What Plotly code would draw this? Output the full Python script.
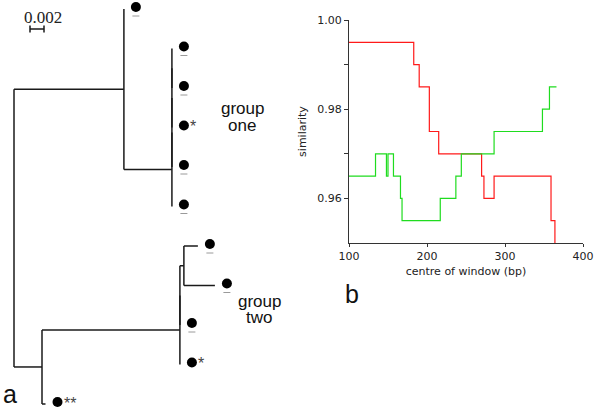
import plotly.graph_objects as go

# ---------------- Panel a: tree data ----------------
node_names = ["root", "A", "L0", "G1a", "G1b", "G1c", "G1d", "L1", "L2", "L3", "L4", "L5",
              "B", "G2a", "G2b", "S", "L6", "L7", "L8", "L9", "L10"]
node_parents = [None, "root", "A", "A", "G1a", "G1b", "G1c", "G1d", "G1d", "G1c", "G1b", "G1a",
                "root", "B", "G2a", "G2b", "S", "S", "G2b", "G2a", "B"]
branch_lengths = [0, 0.0157, 0, 0.00686, 0, 0, 0, 0, 0, 0, 0, 0,
                  0.004, 0.0197, 0, 0.00057, 0.002, 0.00443, 0, 0, 0.0005]
leaf_names = ["L0", "L1", "L2", "L3", "L4", "L5", "L6", "L7", "L8", "L9", "L10"]
leaf_marks = ["bar", "bar", "bar", "*", "bar", "bar", "bar", "bar", "bar", "*", "**"]
scale_bar_length = 0.002
scale_bar_label = "0.002"
group_one_label = ["group", "one"]
group_two_label = ["group", "two"]

# ---------------- Panel b: similarity data ----------------
red_x = [100, 183, 190, 203, 215, 270, 273, 286, 359, 362, 364]
red_y = [0.995, 0.990, 0.985, 0.975, 0.970, 0.965, 0.960, 0.965, 0.955, 0.955, 0.940]
green_x = [100, 134, 148, 150, 157, 166, 168, 217, 237, 244, 286, 348, 357, 366]
green_y = [0.965, 0.970, 0.965, 0.970, 0.965, 0.960, 0.955, 0.960, 0.965, 0.970, 0.975,
           0.980, 0.985, 0.985]
x_ticks = [100, 200, 300, 400]
y_ticks = [0.96, 0.97, 0.98, 0.99, 1.00]
y_tick_text = ["0.96", "", "0.98", "", "1.00"]

# ---------------- layout constants (pixels) ----------------
W, H = 600, 413
X0_PX, PX_PER_UNIT = 14, 7000.0
Y0_PX, PX_PER_LEAF = 9, 39.5


def dx(px):
    return px / PX_PER_UNIT


def dy(px):
    return px / PX_PER_LEAF


# ---------------- tree layout ----------------
children = {n: [] for n in node_names}
for n, p in zip(node_names, node_parents):
    if p is not None:
        children[p].append(n)

depth = {}
for n, p, bl in zip(node_names, node_parents, branch_lengths):
    depth[n] = (depth[p] if p is not None else 0.0) + bl

ypos = {}
for i, n in enumerate(leaf_names):
    ypos[n] = float(i)


def place(n):
    if not children[n]:
        return ypos[n]
    ys = [place(c) for c in children[n]]
    ypos[n] = (ys[0] + ys[-1]) / 2.0
    return ypos[n]


place("root")

line_x, line_y = [], []
for n, p in zip(node_names, node_parents):
    if p is not None:
        line_x += [depth[p], depth[n], None]
        line_y += [ypos[n], ypos[n], None]
    if children[n]:
        ch = children[n]
        line_x += [depth[n], depth[n], None]
        line_y += [ypos[ch[0]], ypos[ch[-1]], None]

fig = go.Figure()
fig.add_trace(go.Scatter(x=line_x, y=line_y, mode="lines",
                         line=dict(color="#1a1a1a", width=1.5),
                         hoverinfo="skip", showlegend=False, xaxis="x", yaxis="y"))

dot_x = [depth[n] + dx(12) for n in leaf_names]
dot_y = [ypos[n] - dy(2) for n in leaf_names]
fig.add_trace(go.Scatter(x=dot_x, y=dot_y, mode="markers",
                         marker=dict(color="black", size=10),
                         cliponaxis=False,
                         showlegend=False, xaxis="x", yaxis="y"))

bar_x = [x for x, m in zip(dot_x, leaf_marks) if m == "bar"]
bar_y = [y + dy(9) for y, m in zip(dot_y, leaf_marks) if m == "bar"]
fig.add_trace(go.Scatter(x=bar_x, y=bar_y, mode="markers",
                         marker=dict(symbol="line-ew", size=5,
                                     line=dict(color="#9a9a9a", width=1)),
                         showlegend=False, xaxis="x", yaxis="y"))

annotations = []
for x, y, m in zip(dot_x, dot_y, leaf_marks):
    if m != "bar":
        annotations.append(dict(x=x + dx(4), y=y + dy(1), xref="x", yref="y", text=m,
                                showarrow=False, xanchor="left", yanchor="middle",
                                font=dict(family="Liberation Sans", size=16, color="#444")))

# scale bar
sb_x0 = dx(30 - X0_PX)
fig.add_trace(go.Scatter(x=[sb_x0, sb_x0 + scale_bar_length], y=[dy(29 - Y0_PX)] * 2,
                         mode="lines+markers",
                         line=dict(color="#1a1a1a", width=1.5),
                         marker=dict(symbol="line-ns", size=5,
                                     line=dict(color="#1a1a1a", width=1.5)),
                         showlegend=False, xaxis="x", yaxis="y"))
annotations.append(dict(x=dx(43 - X0_PX), y=dy(17 - Y0_PX), xref="x", yref="y",
                        text=scale_bar_label, showarrow=False,
                        font=dict(family="Liberation Serif", size=17, color="#222")))

for (cx, cy1, cy2), lab in [((242, 108, 125), group_one_label), ((259, 301, 317), group_two_label)]:
    for cy, t in zip((cy1, cy2), lab):
        annotations.append(dict(x=dx(cx - X0_PX), y=dy(cy - Y0_PX), xref="x", yref="y",
                                text=t, showarrow=False,
                                font=dict(family="Liberation Sans", size=17, color="#111")))

annotations.append(dict(x=10 / W, y=1 - 394 / H, xref="paper", yref="paper", text="a",
                        xanchor="center", yanchor="middle",
                        showarrow=False, font=dict(family="Liberation Sans", size=25, color="#111")))
annotations.append(dict(x=352 / W, y=1 - 294 / H, xref="paper", yref="paper", text="b",
                        xanchor="center", yanchor="middle",
                        showarrow=False, font=dict(family="Liberation Sans", size=25, color="#111")))

# ---------------- panel b traces ----------------
fig.add_trace(go.Scatter(x=red_x, y=red_y, mode="lines", line_shape="hv",
                         line=dict(color="#ff1a1a", width=1.2),
                         showlegend=False, xaxis="x2", yaxis="y2"))
fig.add_trace(go.Scatter(x=green_x, y=green_y, mode="lines", line_shape="hv",
                         line=dict(color="#1fdc1f", width=1.2),
                         showlegend=False, xaxis="x2", yaxis="y2"))

tick_font = dict(family="DejaVu Sans", size=11, color="#222")
fig.update_layout(
    template="none",
    width=W, height=H, margin=dict(l=0, r=0, t=0, b=0, pad=0),
    paper_bgcolor="white", plot_bgcolor="white",
    showlegend=False,
    xaxis=dict(domain=[0, 1], range=[dx(0 - X0_PX), dx(W - X0_PX)], visible=False,
               fixedrange=True, automargin=False),
    yaxis=dict(domain=[0, 1], range=[dy(H - Y0_PX), dy(0 - Y0_PX)], visible=False,
               fixedrange=True, automargin=False),
    xaxis2=dict(domain=[349 / W, 583 / W], anchor="y2", range=[100, 400], automargin=False,
                tickvals=x_ticks, showline=True, linecolor="#333", linewidth=1,
                ticks="outside", ticklen=3, tickcolor="#333", showgrid=False, zeroline=False,
                tickfont=tick_font,
                title=dict(text="centre of window (bp)", font=tick_font, standoff=5)),
    yaxis2=dict(domain=[1 - 243 / H, 1 - 20 / H], anchor="x2", range=[0.95, 1.0],
                automargin=False,
                tickvals=y_ticks, ticktext=y_tick_text, showline=True, linecolor="#333",
                linewidth=1, ticks="outside", ticklen=4, tickcolor="#333",
                showgrid=False, zeroline=False, tickfont=tick_font,
                title=dict(text="similarity", font=tick_font, standoff=8)),
    annotations=annotations,
)

fig.write_html("out.html", config={"displayModeBar": False},
               post_script="document.body.style.margin='0px';document.body.style.overflow='hidden';")
